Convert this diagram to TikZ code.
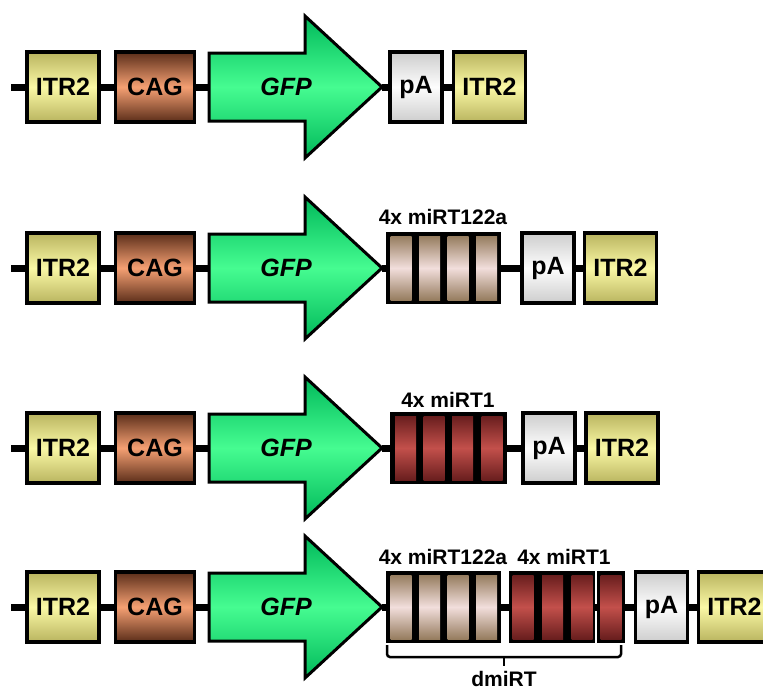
\documentclass[tikz,border=0pt]{standalone}
\usepackage{fontspec}
\setmainfont{Liberation Sans}
\usetikzlibrary{backgrounds}
\definecolor{itrD}{RGB}{185,180,95}
\definecolor{itrL}{RGB}{250,248,165}
\definecolor{cagD}{RGB}{90,45,25}
\definecolor{cagL}{RGB}{245,160,115}
\definecolor{gfpD}{RGB}{0,185,90}
\definecolor{gfpL}{RGB}{70,252,145}
\definecolor{paD}{RGB}{205,205,205}
\definecolor{paL}{RGB}{253,253,253}
\definecolor{mAD}{RGB}{150,125,95}
\definecolor{mAL}{RGB}{242,222,220}
\definecolor{mBD}{RGB}{105,30,30}
\definecolor{mBL}{RGB}{195,80,75}
\tikzset{
  bb/.style={line width=7pt},
  box/.style={draw, line width=3.5pt, inner sep=0pt, minimum height=70pt,
    font=\fontsize{25}{25}\selectfont\bfseries},
  itr/.style={box, minimum width=72pt, top color=itrD, bottom color=itrD, middle color=itrL},
  cag/.style={box, minimum width=79pt, top color=cagD, bottom color=cagD, middle color=cagL},
  pa/.style={box, minimum width=52pt, top color=paD, bottom color=paD, middle color=paL},
  gfpbody/.style={draw, line width=3pt, line join=miter, top color=gfpD, bottom color=gfpD, middle color=gfpL},
  gfptext/.style={inner sep=0pt, font=\fontsize{25}{25}\selectfont\bfseries\itshape},
  mbox/.style={draw, fill=black, line width=3pt, inner sep=0pt, minimum height=69pt},
  segA/.style={inner sep=0pt, minimum width=21pt, minimum height=64pt, top color=mAD, bottom color=mAD, middle color=mAL},
  segB/.style={inner sep=0pt, minimum width=21pt, minimum height=64pt, top color=mBD, bottom color=mBD, middle color=mBL},
  lbl/.style={inner sep=0pt, font=\fontsize{21}{21}\selectfont\bfseries},
  bracel/.style={line width=2.5pt, rounded corners=3pt}
}
\newcommand\mkleft[2]{%
  \coordinate (s#1) at (11,#2);
  \node[itr] (iL#1) at (63,#2) {ITR2};
  \node[cag] (cag#1) at (155,#2) {CAG};
  \coordinate (gw#1) at (209,#2);
  \coordinate (gt#1) at (382,#2);
  \draw[gfpbody] (209,#2-34) -- (305,#2-34) -- (305,#2-71) -- (gt#1)
     -- (305,#2+71) -- (305,#2+34) -- (209,#2+34) -- cycle;
  \node[gfptext] (gfp#1) at (286,#2) {GFP};
}
\begin{document}
\begin{tikzpicture}[x=1pt,y=-1pt]
\useasboundingbox (0,0) rectangle (763,691);
\clip (0,0) rectangle (763,691);

% ---------- row 1 ----------
\mkleft{1}{87}
\node[pa] (pa1) at (416,87) {pA};
\node[itr] (iR1) at (489.5,87) {ITR2};

% ---------- row 2 ----------
\mkleft{2}{268}
\node[mbox, minimum width=112pt] (mA2) at (443.5,268) {};
\foreach \x/\k in {401/1,429.5/2,458/3,486.5/4}
  \node[segA] (mA2s\k) at (\x,268) {};
\node[lbl] (lA2) at (443,217) {4x miRT122a};
\node[pa] (pa2) at (548,268) {pA};
\node[itr] (iR2) at (620.5,268) {ITR2};

% ---------- row 3 ----------
\mkleft{3}{448}
\node[mbox, minimum width=114pt] (mB3) at (448.5,448) {};
\foreach \x/\k in {405.5/1,434/2,462.5/3,492/4}
  \node[segB] (mB3s\k) at (\x,448) {};
\node[lbl] (lB3) at (448,400) {4x miRT1};
\node[pa] (pa3) at (549,448) {pA};
\node[itr] (iR3) at (622,448) {ITR2};

% ---------- row 4 ----------
\mkleft{4}{607}
\node[mbox, minimum width=112pt] (mA4) at (443.5,607) {};
\foreach \x/\k in {401/1,429.5/2,458/3,486.5/4}
  \node[segA] (mA4s\k) at (\x,607) {};
\node[mbox, minimum width=83pt] (mB4) at (552,607) {};
\foreach \x/\k in {523/1,552.5/2,582/3}
  \node[segB] (mB4s\k) at (\x,607) {};
\node[mbox, minimum width=25pt] (mC4) at (611,607) {};
\node[segB] (mC4s1) at (611,607) {};
\node[lbl] (lA4) at (443,557) {4x miRT122a};
\node[lbl] (lB4) at (564,557) {4x miRT1};
\node[pa] (pa4) at (661.5,607) {pA};
\node[itr] (iR4) at (734.5,607) {ITR2};

% brace
\coordinate (bL) at (387,645);
\coordinate (bR) at (621,645);
\coordinate (bT) at (504,666);
\draw[bracel] (bL) -- (387,657) -- (621,657) -- (bR);
\draw[line width=2.5pt] (504,657) -- (bT);
\node[lbl] (dm) at (504,679) {dmiRT};

% ---------- backbone connectors ----------
\begin{scope}[on background layer]
  \draw[bb] (s1) -- (iL1) -- (cag1) -- (gw1);
  \draw[bb] (gt1) -- (pa1) -- (iR1);
  \draw[bb] (s2) -- (iL2) -- (cag2) -- (gw2);
  \draw[bb] (gt2) -- (mA2) -- (pa2) -- (iR2);
  \draw[bb] (s3) -- (iL3) -- (cag3) -- (gw3);
  \draw[bb] (gt3) -- (mB3) -- (pa3) -- (iR3);
  \draw[bb] (s4) -- (iL4) -- (cag4) -- (gw4);
  \draw[bb] (gt4) -- (mA4) -- (mB4) -- (mC4) -- (pa4) -- (iR4);
\end{scope}
\end{tikzpicture}
\end{document}
